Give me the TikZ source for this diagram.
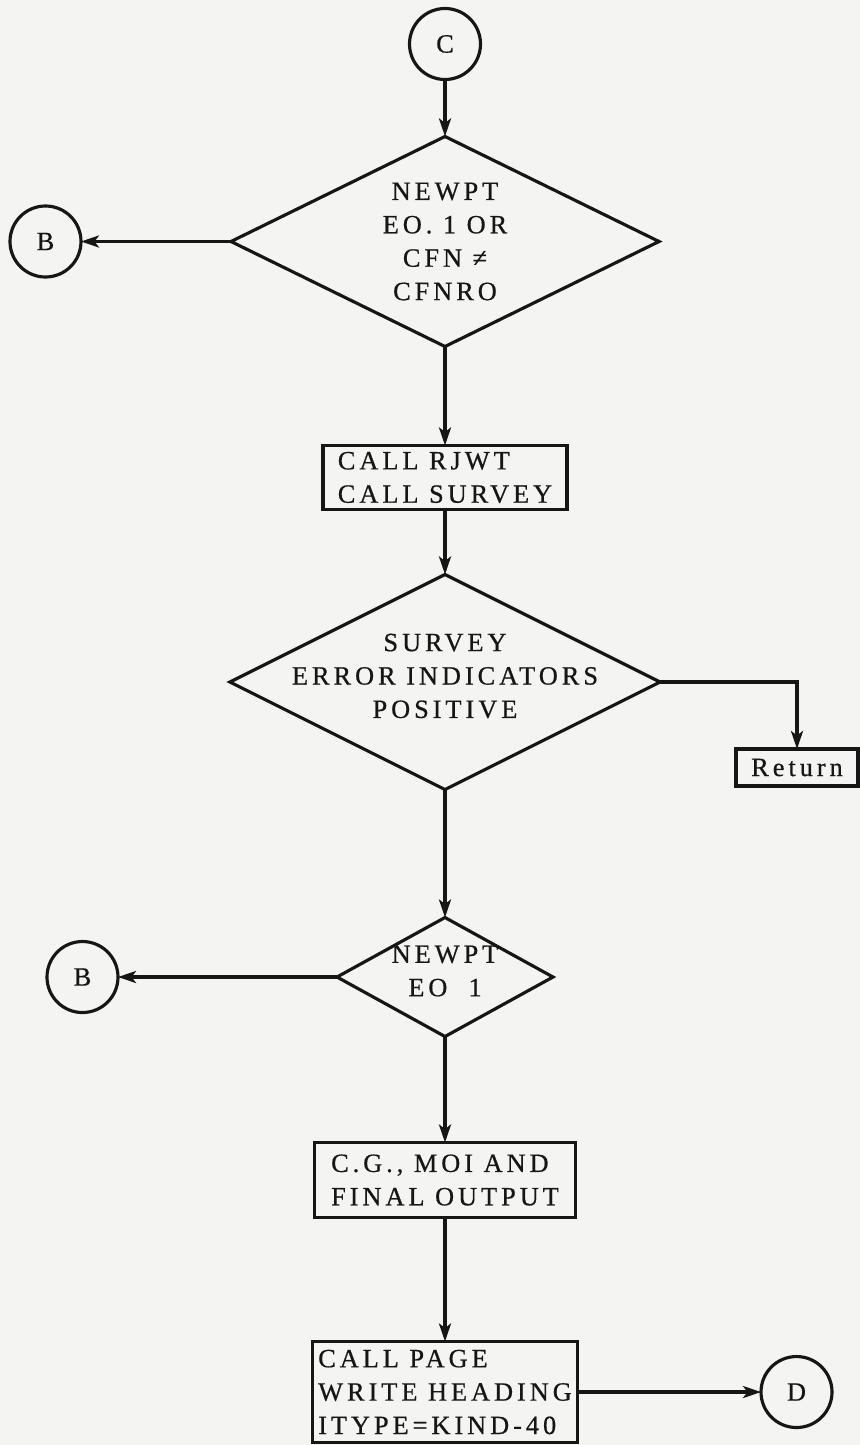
\documentclass[tikz,border=0pt]{standalone}
\usepackage{fontspec}
\usepackage{tikz}
\usetikzlibrary{positioning,arrows.meta,shapes.geometric}
\newfontfamily\flujo[LetterSpace=15,FakeBold=0.6]{Liberation Serif}
\definecolor{papel}{RGB}{244,244,242}
\definecolor{tinta}{RGB}{22,22,22}
\tikzset{arista/.style={line width=1.8pt, draw=tinta}}
\tikzset{flecha/.style={arista, -{Stealth[length=3.6mm, width=2.4mm, inset=0.9mm]}}}
\tikzset{rombo/.style={diamond, draw=tinta, line width=1.8pt, inner sep=0pt, outer sep=0pt}}
\tikzset{caja/.style={rectangle, draw=tinta, line width=1.8pt, inner sep=0pt, outer sep=0pt, align=left}}
\tikzset{conector/.style={circle, draw=tinta, line width=1.8pt, inner sep=0pt, outer sep=0pt, minimum size=14.2mm}}

\begin{document}
\begin{tikzpicture}[x=0.2mm, y=-0.2mm, every node/.style={font=\flujo\fontsize{15pt}{19pt}\selectfont, text=tinta}]
            \fill[papel] (0,0) rectangle (860,1445);
            \useasboundingbox (0,0) rectangle (860,1445);

            \node[conector] (C) at (445,44) {C};
            \node[rombo, minimum width=85.6mm, minimum height=42mm, below=11.4mm of C] (r1) {};
            \node[align=center] (r1t) at (r1) {NEWPT\\EO. 1 OR\\CFN ≠\\CFNRO};
            \node[conector, left=30mm of r1] (B1) {B};
            \node[caja, minimum width=48.8mm, minimum height=12.8mm, below=19.8mm of r1] (p1) {CALL RJWT\\CALL SURVEY};
            \node[rombo, minimum width=86mm, minimum height=43mm, below=13mm of p1] (r2) {};
            \node[align=center, yshift=1.2mm] (r2t) at (r2) {SURVEY\\ERROR INDICATORS\\POSITIVE};
            \node[caja, minimum width=24.4mm, minimum height=7.4mm, below right=13.4mm and 15.2mm of r2.east] (ret) {Return};
            \node[rombo, minimum width=43.2mm, minimum height=23.8mm, below=25.6mm of r2] (r3) {};
            \node[align=center, yshift=1.2mm] (r3t) at (r3) {NEWPT\\EO\ \ 1};
            \node[conector, left=43.8mm of r3] (B2) {B};
            \node[caja, minimum width=52.2mm, minimum height=15mm, below=21.2mm of r3] (p2) {C.G., MOI AND\\FINAL OUTPUT};
            \node[caja, minimum width=53mm, minimum height=20.2mm, below=24.8mm of p2] (p3) {CALL PAGE\\WRITE HEADING\\ITYPE=KIND-40};
            \node[conector, right=36.7mm of p3] (D) {D};

            \draw[flecha] (C) to (r1);
            \draw[flecha] (r1.west) to (B1);
            \draw[flecha] (r1.south) to (p1);
            \draw[flecha] (p1) to (r2.north);
            \draw[flecha] (r2.east) -| (ret.north);
            \draw[flecha] (r2.south) to (r3.north);
            \draw[flecha] (r3.west) to (B2);
            \draw[flecha] (r3.south) to (p2);
            \draw[flecha] (p2) to (p3);
            \draw[flecha] (p3) to (D);
        \end{tikzpicture}
\end{document}
